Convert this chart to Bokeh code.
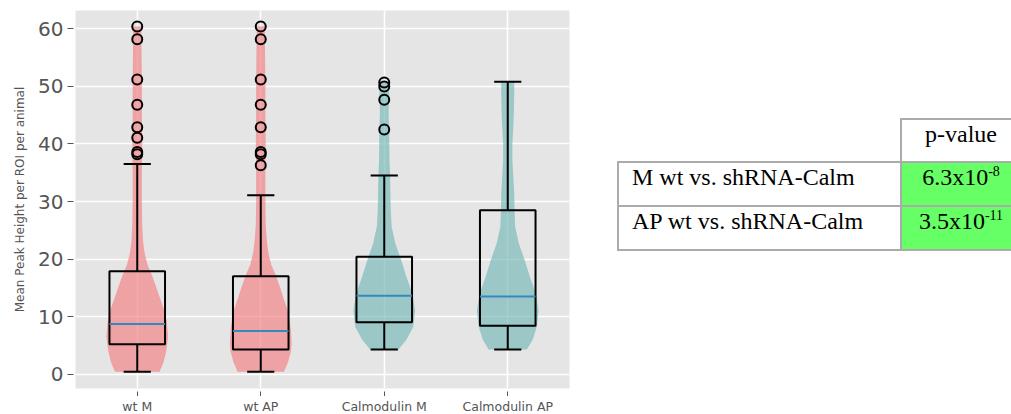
from bokeh.plotting import figure
from bokeh.models import Range1d, FixedTicker, Div
from bokeh.layouts import row, column
from bokeh.core.properties import value
from bokeh.embed import file_html
from bokeh.resources import INLINE

# ---------------- data ----------------
categories = ["wt M", "wt AP", "Calmodulin M", "Calmodulin AP"]
positions = [1, 2, 3, 4]
group_color = ["#F28284", "#F28284", "#78B8B8", "#78B8B8"]

q1 = [5.2, 4.3, 9.0, 8.4]
medians = [8.7, 7.5, 13.6, 13.5]
q3 = [17.9, 17.0, 20.4, 28.5]
whisker_low = [0.4, 0.4, 4.3, 4.3]
whisker_high = [36.5, 31.1, 34.5, 50.8]

outliers_wt_m = [60.4, 58.2, 51.2, 46.8, 42.9, 41.1, 38.6, 38.2]
outliers_wt_ap = [60.4, 58.2, 51.2, 46.8, 42.9, 38.6, 38.2, 36.3]
outliers_calm_m = [50.7, 50.0, 47.7, 42.5]
outliers_calm_ap = []

# violin outlines: value levels and relative density (1 = widest)
violin_wt_m_y = [0.4, 2, 4, 6.5, 9, 11, 13, 15, 17, 19, 21, 23, 26, 30, 35, 40, 45, 50, 55, 60.4]
violin_wt_m_d = [0.72, 0.85, 0.94, 1.0, 0.96, 0.88, 0.75, 0.62, 0.49, 0.33, 0.24, 0.19, 0.16, 0.15, 0.15, 0.16, 0.15, 0.15, 0.14, 0.13]
violin_wt_ap_y = [0.4, 2, 4, 5.5, 8, 11, 13, 15, 17, 19, 21, 23, 26, 30, 35, 40, 45, 50, 55, 60.4]
violin_wt_ap_d = [0.75, 0.88, 0.98, 1.0, 0.97, 0.88, 0.75, 0.63, 0.5, 0.34, 0.25, 0.2, 0.16, 0.15, 0.15, 0.16, 0.15, 0.15, 0.14, 0.13]
violin_calm_m_y = [4.3, 6, 8.2, 11.1, 14, 16.9, 19.8, 22.7, 25.6, 28.5, 31.4, 34.3, 37.2, 41.8, 45.8, 48.5, 50.7]
violin_calm_m_d = [0.46, 0.72, 0.94, 1.0, 0.91, 0.72, 0.55, 0.36, 0.24, 0.21, 0.2, 0.19, 0.17, 0.16, 0.14, 0.16, 0.14]
violin_calm_ap_y = [4.3, 6, 8.2, 11.1, 14, 16.9, 19.8, 22.7, 25.6, 28.5, 31.4, 34.3, 37.2, 40, 43, 46, 48.8, 50.8]
violin_calm_ap_d = [0.62, 0.81, 0.94, 1.0, 0.91, 0.72, 0.55, 0.36, 0.24, 0.22, 0.21, 0.18, 0.15, 0.15, 0.18, 0.2, 0.21, 0.21]

y_ticks = [0, 10, 20, 30, 40, 50, 60]
y_label = "Mean Peak Height per ROI per animal"

table_header = "p-value"
comparisons = ["M wt vs. shRNA-Calm", "AP wt vs. shRNA-Calm"]
p_mantissa = ["6.3x10", "3.5x10"]
p_exponent = ["-8", "-11"]

# ---------------- main figure ----------------
y_start, y_end = -2.5, 63.2
x_range = Range1d(0.5, 4.5)
p = figure(width=590, height=396, x_range=x_range, y_range=Range1d(y_start, y_end),
           output_backend="svg", toolbar_location=None,
           min_border_left=75, min_border_right=21, min_border_top=10, min_border_bottom=8)
p.background_fill_color = "#E5E5E5"
p.border_fill_color = "white"
p.outline_line_color = None
p.grid.grid_line_color = "white"
p.grid.grid_line_width = 1.6

p.xaxis.ticker = FixedTicker(ticks=positions)
p.yaxis.ticker = FixedTicker(ticks=y_ticks)

for ax in (p.xaxis, p.yaxis):
    ax.axis_line_color = None
    ax.minor_tick_line_color = None
    ax.major_tick_line_color = "#555555"
    ax.major_tick_line_width = 1
    ax.major_label_text_color = "#555555"
    ax.major_label_text_font = "DejaVu Sans"

p.yaxis.major_tick_in = -2
p.yaxis.major_tick_out = 8
p.yaxis.major_label_standoff = 4
p.yaxis.major_label_text_font_size = "20px"
p.yaxis.axis_label = y_label
p.yaxis.axis_label_text_font = "DejaVu Sans"
p.yaxis.axis_label_text_font_size = "12px"
p.yaxis.axis_label_text_font_style = "normal"
p.yaxis.axis_label_text_color = "#555555"
p.yaxis.axis_label_standoff = 8

# x axis of the main figure draws only the ticks
p.xaxis.major_tick_in = -3
p.xaxis.major_tick_out = 8
p.xaxis.major_label_text_font_size = "0px"
p.xaxis.major_label_text_color = None
p.xaxis.major_label_standoff = 0

half_max = 0.25
violins = [
    (violin_wt_m_y, violin_wt_m_d),
    (violin_wt_ap_y, violin_wt_ap_d),
    (violin_calm_m_y, violin_calm_m_d),
    (violin_calm_ap_y, violin_calm_ap_d),
]
for pos, (vy, vd), col in zip(positions, violins, group_color):
    p.harea(x1=[pos - half_max * d for d in vd], x2=[pos + half_max * d for d in vd], y=vy,
            fill_color=col, fill_alpha=0.68)

box_half = 0.225
cap_half = 0.11
p.quad(left=[x - box_half for x in positions], right=[x + box_half for x in positions],
       bottom=q1, top=q3, fill_color=None, line_color="black", line_width=2)
p.segment(x0=positions, y0=q3, x1=positions, y1=whisker_high, line_color="black", line_width=2)
p.segment(x0=positions, y0=q1, x1=positions, y1=whisker_low, line_color="black", line_width=2)
p.segment(x0=[x - cap_half for x in positions], y0=whisker_high,
          x1=[x + cap_half for x in positions], y1=whisker_high, line_color="black", line_width=2)
p.segment(x0=[x - cap_half for x in positions], y0=whisker_low,
          x1=[x + cap_half for x in positions], y1=whisker_low, line_color="black", line_width=2)
p.segment(x0=[x - box_half for x in positions], y0=medians,
          x1=[x + box_half for x in positions], y1=medians, line_color="#348ABD", line_width=2)

all_out = [outliers_wt_m, outliers_wt_ap, outliers_calm_m, outliers_calm_ap]
ox, oy = [], []
for pos, outs in zip(positions, all_out):
    ox += [pos] * len(outs)
    oy += outs
p.scatter(x=ox, y=oy, marker="circle", size=10, fill_color=None, line_color="black", line_width=2)

# ---------------- category labels strip (shares the x scale) ----------------
lab = figure(width=590, height=18, x_range=x_range, y_range=Range1d(0, 1),
             output_backend="svg", toolbar_location=None,
             min_border_left=75, min_border_right=21, min_border_top=0, min_border_bottom=0)
lab.axis.visible = False
lab.grid.visible = False
lab.outline_line_color = None
lab.background_fill_color = "white"
lab.border_fill_color = "white"
lab.text(x=positions, y=[0.42] * len(positions), text=categories, text_align="center",
         text_baseline="middle", text_font=value("DejaVu Sans"),
         text_font_size=value("12.5px"), text_color="#555555")

# ---------------- p-value table ----------------
font = "font-family:'Liberation Serif','Times New Roman',serif;font-size:24px;color:#000;"
cell = ("position:absolute;box-sizing:border-box;border:2px solid #ABABAB;line-height:24px;"
        "padding-top:2px;white-space:nowrap;margin:0;")
sup = "font-size:14px;position:relative;top:-9px;"

html = ['<div style="position:relative;width:421px;height:414px;overflow:hidden;' + font + '">']
html.append('<div style="' + cell + 'left:310px;top:118px;width:122px;height:45px;text-align:center;">'
            + table_header + '</div>')
tops = [161, 205]
for t, comp, man, exp in zip(tops, comparisons, p_mantissa, p_exponent):
    html.append('<div style="' + cell + 'left:27px;top:%dpx;width:285px;height:46px;padding-left:13px;">' % t
                + comp + '</div>')
    html.append('<div style="' + cell + 'left:310px;top:%dpx;width:122px;height:46px;text-align:center;'
                'background:#66FF66;">' % t + man + '<span style="' + sup + '">' + exp + '</span></div>')
html.append('</div>')

div = Div(text="".join(html), width=421, height=414, margin=0)

layout = row(column(p, lab, spacing=0), div, spacing=0)
open("out.html", "w").write(file_html(layout, INLINE))
